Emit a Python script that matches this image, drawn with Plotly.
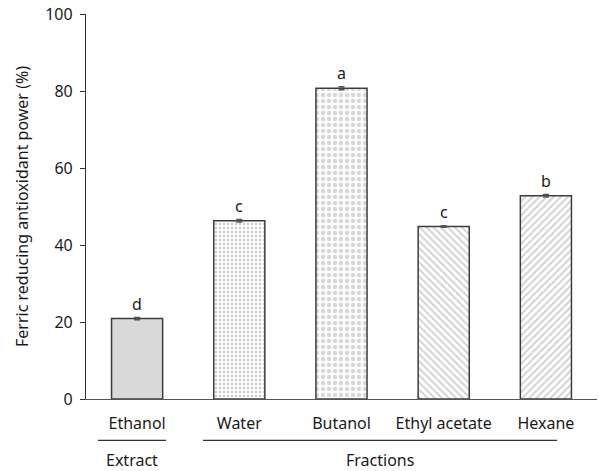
import plotly.graph_objects as go

# FRAP results per solvent
categories = ["Ethanol", "Water", "Butanol", "Ethyl acetate", "Hexane"]
frap_values = [20.9, 46.3, 80.7, 44.8, 52.8]
frap_errors = [0.3, 0.3, 0.4, 0.2, 0.3]
sig_letters = ["d", "c", "a", "c", "b"]
y_ticks = [0, 20, 40, 60, 80, 100]

FONT = "Noto Sans"
FS = 16
TEXT = "#1a1a1a"
EDGE = "#3c3c3c"

patterns = [
    dict(shape=""),
    dict(shape=".", fgcolor="#cacaca", bgcolor="white", size=4, solidity=0.3, fillmode="replace"),
    dict(shape=".", fgcolor="#d8d8d8", bgcolor="white", size=6, solidity=0.45, fillmode="replace"),
    dict(shape="\\", fgcolor="#d0d0d0", bgcolor="white", size=5, solidity=0.35, fillmode="replace"),
    dict(shape="/", fgcolor="#d0d0d0", bgcolor="white", size=5, solidity=0.35, fillmode="replace"),
]
fills = ["#d9d9d9", "white", "white", "white", "white"]

fig = go.Figure()
for i, cat in enumerate(categories):
    fig.add_trace(go.Bar(
        x=[cat], y=[frap_values[i]],
        width=0.5,
        marker=dict(color=fills[i], line=dict(color=EDGE, width=1.5), pattern=patterns[i]),
        error_y=dict(type="data", array=[frap_errors[i]], color="#555555", thickness=1.5, width=3),
        showlegend=False,
        hoverinfo="skip",
    ))

# significance letters above each bar
for cat, v, lt in zip(categories, frap_values, sig_letters):
    fig.add_annotation(x=cat, y=v, text=lt, showarrow=False, yanchor="bottom", yshift=2,
                       font=dict(family=FONT, size=FS, color=TEXT))

# group brackets under the category labels
groups = [("Extract", -0.383, 0.283), ("Fractions", 0.645, 4.11)]
for name, x0, x1 in groups:
    fig.add_shape(type="line", xref="x", yref="paper", x0=x0, x1=x1, y0=-0.1075, y1=-0.1075,
                  line=dict(color="#333333", width=1.2))
    fig.add_annotation(xref="x", yref="paper", x=(x0 + x1) / 2, y=-0.159, text=name,
                       showarrow=False, yanchor="middle",
                       font=dict(family=FONT, size=FS, color=TEXT))

fig.update_layout(
    width=599, height=471,
    margin=dict(l=86, r=2, t=13.5, b=71.5),
    paper_bgcolor="white", plot_bgcolor="white",
    barmode="overlay",
    font=dict(family=FONT, size=FS, color=TEXT),
    xaxis=dict(
        type="category", categoryorder="array", categoryarray=categories,
        range=[-0.5, 4.5],
        showline=True, linecolor="#555555", linewidth=1.2,
        ticks="", showgrid=False, zeroline=False,
        tickfont=dict(family=FONT, size=FS, color=TEXT),
        ticklabelstandoff=10,
    ),
    yaxis=dict(
        range=[0, 100], tickvals=y_ticks,
        showline=True, linecolor="#333333", linewidth=1.2,
        ticks="outside", ticklen=5, tickcolor="#333333", tickwidth=1.2,
        showgrid=False, zeroline=False,
        tickfont=dict(family=FONT, size=FS, color=TEXT),
        ticklabelstandoff=4,
        title=dict(text="Ferric reducing antioxidant power (%)",
                   font=dict(family=FONT, size=FS, color=TEXT), standoff=12),
    ),
)

fig.write_html("out.html")
